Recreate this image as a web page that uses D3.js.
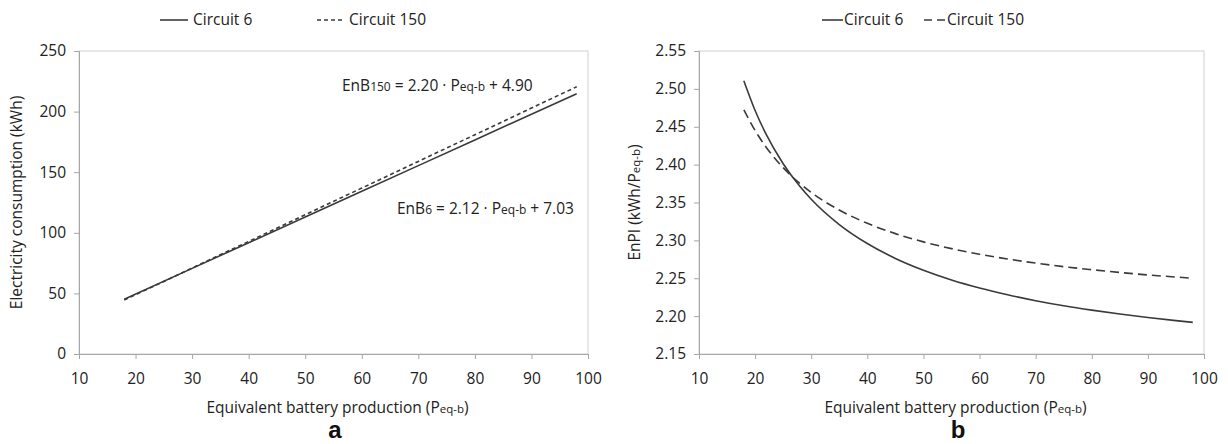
<!DOCTYPE html>
<html>
<head>
<meta charset="utf-8">
<script src="https://cdn.jsdelivr.net/npm/d3@7"></script>
<style>
  html, body { margin: 0; padding: 0; background: #fff; }
  svg { display: block; font-family: "Open Sans", "Liberation Sans", sans-serif; }
</style>
</head>
<body>
<svg id="chart" width="1228" height="444"></svg>
<script>
// Equivalent battery production (x) for each sampled point
const prodLinear = [18, 30, 40, 50, 60, 70, 80, 90, 98];
// Electricity consumption (kWh)
const enbCircuit6   = [45.19, 70.63, 91.83, 113.03, 134.23, 155.43, 176.63, 197.83, 214.79];
const enbCircuit150 = [44.50, 70.90, 92.90, 114.90, 136.90, 158.90, 180.90, 202.90, 220.50];

// EnPI curves
const prodCurve = [18, 20, 22, 25, 28, 30, 35, 40, 45, 50, 55, 60, 65, 70, 75, 80, 85, 90, 95, 98];
const enpiCircuit6   = [2.5106, 2.4715, 2.4395, 2.4012, 2.3711, 2.3543, 2.3209, 2.2958, 2.2762, 2.2606,
                        2.2478, 2.2372, 2.2282, 2.2204, 2.2137, 2.2079, 2.2027, 2.1981, 2.1940, 2.1917];
const enpiCircuit150 = [2.4722, 2.4450, 2.4227, 2.3960, 2.3750, 2.3633, 2.3400, 2.3225, 2.3089, 2.2980,
                        2.2891, 2.2817, 2.2754, 2.2700, 2.2653, 2.2613, 2.2576, 2.2544, 2.2516, 2.2500];

const xTicks = [10, 20, 30, 40, 50, 60, 70, 80, 90, 100];
const yTicksA = [0, 50, 100, 150, 200, 250];
const yTicksB = [2.15, 2.20, 2.25, 2.30, 2.35, 2.40, 2.45, 2.50, 2.55];
const seriesNames = ["Circuit 6", "Circuit 150"];

const svg = d3.select("#chart");
const lineColor = "#3a3a3a";
const axisColor = "#a6a6a6";
const textColor = "#222";
const fs = "15.5px";
const fsSmall = "11.5px";

function panel(opts) {
  const g = svg.append("g");
  const x = d3.scaleLinear().domain([10, 100]).range([opts.left, opts.right]);
  const y = d3.scaleLinear().domain(opts.yDomain).range([opts.bottom, opts.top]);

  // plot frame
  g.append("rect")
    .attr("x", opts.left).attr("y", opts.top)
    .attr("width", opts.right - opts.left).attr("height", opts.bottom - opts.top)
    .attr("fill", "none").attr("stroke", "#d0d0d0").attr("stroke-width", 1);

  const xAxis = g.append("g")
    .attr("transform", `translate(0,${opts.bottom})`)
    .call(d3.axisBottom(x).tickValues(xTicks).tickSize(5).tickPadding(14).tickFormat(d3.format("d")));
  const yAxis = g.append("g")
    .attr("transform", `translate(${opts.left},0)`)
    .call(d3.axisLeft(y).tickValues(opts.yTicks).tickSize(5).tickPadding(8).tickFormat(opts.yFormat));
  [xAxis, yAxis].forEach(a => {
    a.select(".domain").attr("stroke", axisColor);
    a.selectAll(".tick line").attr("stroke", axisColor);
    a.selectAll(".tick text").attr("fill", textColor).style("font-size", fs)
      .style("font-family", "'Open Sans', sans-serif");
  });

  // axis titles
  const xt = g.append("text")
    .attr("x", (opts.left + opts.right) / 2 + 4).attr("y", 413)
    .attr("text-anchor", "middle").attr("fill", textColor).style("font-size", fs);
  xt.append("tspan").text("Equivalent battery production (P");
  xt.append("tspan").style("font-size", fsSmall).text("eq-b");
  xt.append("tspan").text(")");

  const yt = g.append("text")
    .attr("transform", `translate(${opts.yTitleX},${(opts.top + opts.bottom) / 2}) rotate(-90)`)
    .attr("text-anchor", "middle").attr("fill", textColor).style("font-size", fs);
  opts.yTitle.forEach(p => yt.append("tspan").style("font-size", p.small ? fsSmall : fs).text(p.t));

  // panel letter
  g.append("text")
    .attr("x", opts.letterX).attr("y", 438)
    .attr("text-anchor", "middle").attr("fill", "#111")
    .style("font-family", "'Liberation Sans', Arial, sans-serif")
    .style("font-size", "24px").style("font-weight", "bold")
    .text(opts.letter);

  return { g, x, y };
}

// Panel a: electricity consumption
const pa = panel({
  left: 79, right: 588, top: 51, bottom: 354,
  yDomain: [0, 250], yTicks: yTicksA, yFormat: d3.format("d"),
  yTitleX: 22, yTitle: [{ t: "Electricity consumption (kWh)" }],
  letter: "a", letterX: 335
});

const lineA = d3.line().x(d => pa.x(d[0])).y(d => pa.y(d[1]));
pa.g.append("path")
  .datum(prodLinear.map((p, i) => [p, enbCircuit6[i]]))
  .attr("d", lineA).attr("fill", "none").attr("stroke", lineColor).attr("stroke-width", 1.6);
pa.g.append("path")
  .datum(prodLinear.map((p, i) => [p, enbCircuit150[i]]))
  .attr("d", lineA).attr("fill", "none").attr("stroke", lineColor).attr("stroke-width", 1.6)
  .attr("stroke-dasharray", "4,3");

function equation(g, xPos, yPos, sub, rest) {
  const t = g.append("text").attr("x", xPos).attr("y", yPos).attr("fill", textColor).style("font-size", fs);
  t.append("tspan").text("EnB");
  t.append("tspan").style("font-size", "12px").text(sub);
  t.append("tspan").text(" = " + rest[0] + " · P");
  t.append("tspan").style("font-size", "12px").text("eq-b");
  t.append("tspan").text(" + " + rest[1]);
}
equation(pa.g, 342, 91, "150", ["2.20", "4.90"]);
equation(pa.g, 397, 214, "6", ["2.12", "7.03"]);

// Panel a legend
const legA = svg.append("g");
legA.append("line").attr("x1", 160).attr("x2", 188).attr("y1", 20).attr("y2", 20)
  .attr("stroke", lineColor).attr("stroke-width", 1.6);
legA.append("text").attr("x", 193).attr("y", 25).attr("fill", textColor).style("font-size", fs).text(seriesNames[0]);
legA.append("line").attr("x1", 317).attr("x2", 342).attr("y1", 20).attr("y2", 20)
  .attr("stroke", lineColor).attr("stroke-width", 1.6).attr("stroke-dasharray", "4,3");
legA.append("text").attr("x", 349).attr("y", 25).attr("fill", textColor).style("font-size", fs).text(seriesNames[1]);

// Panel b: energy performance indicator
const pb = panel({
  left: 699, right: 1204, top: 51, bottom: 354,
  yDomain: [2.15, 2.55], yTicks: yTicksB, yFormat: d3.format(".2f"),
  yTitleX: 640, yTitle: [{ t: "EnPI (kWh/P" }, { t: "eq-b", small: true }, { t: ")" }],
  letter: "b", letterX: 958
});

const lineB = d3.line().curve(d3.curveMonotoneX).x(d => pb.x(d[0])).y(d => pb.y(d[1]));
pb.g.append("path")
  .datum(prodCurve.map((p, i) => [p, enpiCircuit6[i]]))
  .attr("d", lineB).attr("fill", "none").attr("stroke", lineColor).attr("stroke-width", 1.6);
pb.g.append("path")
  .datum(prodCurve.map((p, i) => [p, enpiCircuit150[i]]))
  .attr("d", lineB).attr("fill", "none").attr("stroke", lineColor).attr("stroke-width", 1.6)
  .attr("stroke-dasharray", "9,5");

// Panel b legend
const legB = svg.append("g");
legB.append("line").attr("x1", 822).attr("x2", 843).attr("y1", 20).attr("y2", 20)
  .attr("stroke", lineColor).attr("stroke-width", 1.6);
legB.append("text").attr("x", 844).attr("y", 25).attr("fill", textColor).style("font-size", fs).text(seriesNames[0]);
legB.append("line").attr("x1", 924).attr("x2", 946).attr("y1", 20).attr("y2", 20)
  .attr("stroke", lineColor).attr("stroke-width", 1.6).attr("stroke-dasharray", "8,5");
legB.append("text").attr("x", 947).attr("y", 25).attr("fill", textColor).style("font-size", fs).text(seriesNames[1]);
</script>
</body>
</html>
